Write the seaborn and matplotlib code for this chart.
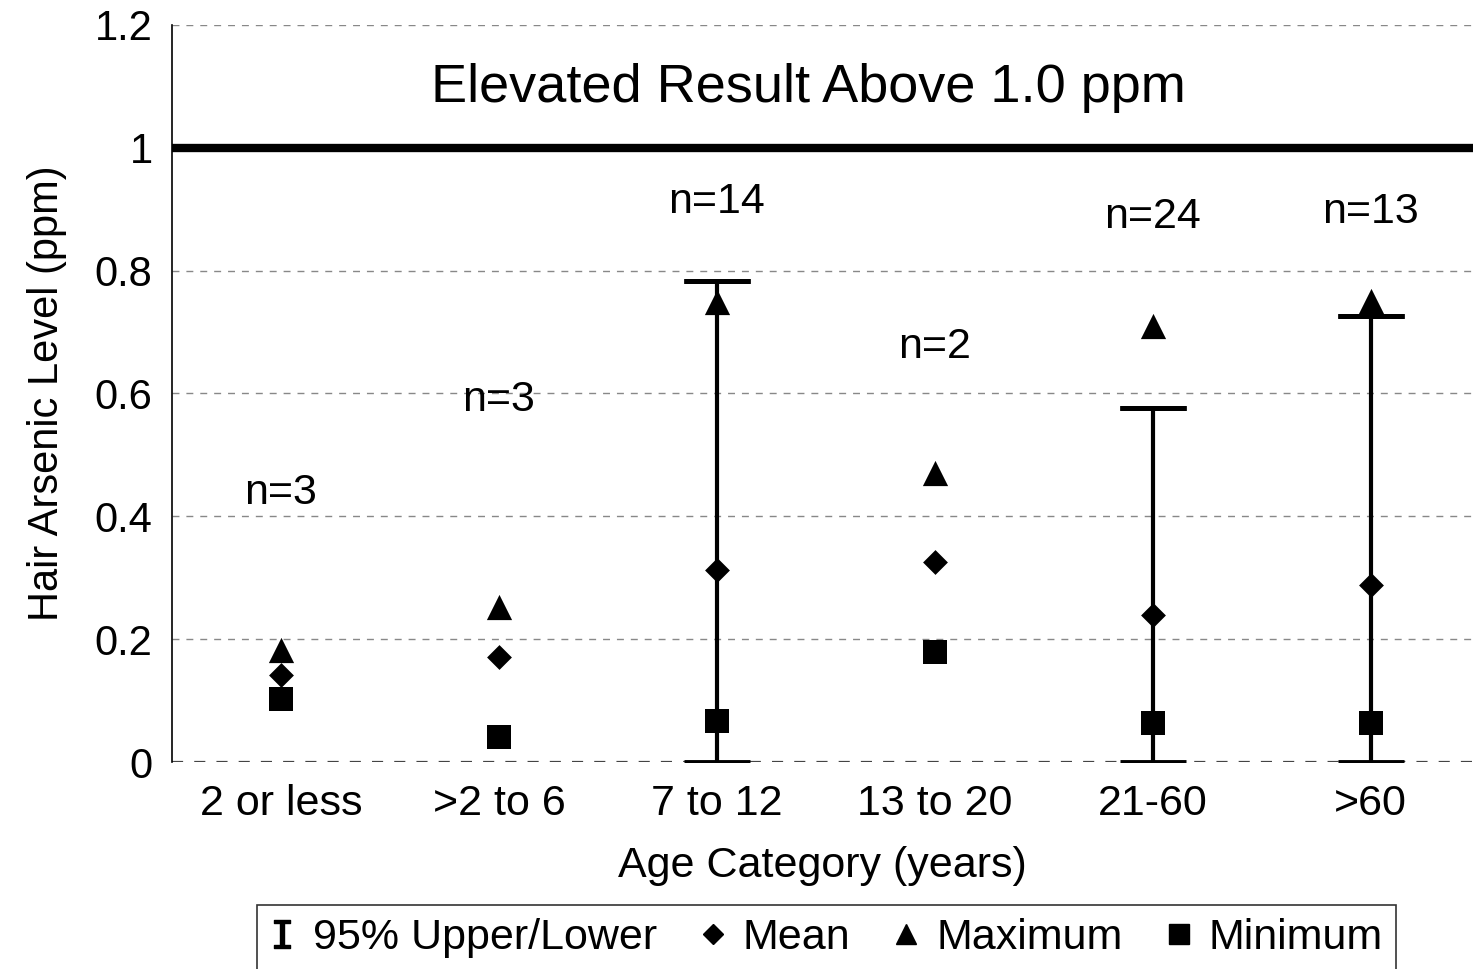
import matplotlib
matplotlib.use("Agg")
import matplotlib.pyplot as plt
from matplotlib.lines import Line2D
import seaborn as sns
import numpy as np
import pandas as pd

categories = ["2 or less", ">2 to 6", "7 to 12", "13 to 20", "21-60", ">60"]
mean_vals = [0.142, 0.171, 0.312, 0.325, 0.239, 0.288]
max_vals = [0.182, 0.252, 0.749, 0.470, 0.710, 0.750]
min_vals = [0.103, 0.041, 0.067, 0.179, 0.063, 0.063]
ci_upper = [np.nan, np.nan, 0.783, np.nan, 0.576, 0.726]
ci_lower = [np.nan, np.nan, 0.0, np.nan, 0.0, 0.0]
n_labels = ["n=3", "n=3", "n=14", "n=2", "n=24", "n=13"]
n_label_y = [0.438, 0.589, 0.912, 0.676, 0.887, 0.895]
ytick_vals = [0, 0.2, 0.4, 0.6, 0.8, 1.0, 1.2]
ytick_labels = ["0", "0.2", "0.4", "0.6", "0.8", "1", "1.2"]
threshold = 1.0

sns.set_theme(style="white")
plt.rcParams["font.family"] = ["Liberation Sans", "DejaVu Sans"]
for k in ["text.color", "axes.labelcolor", "xtick.color", "ytick.color"]:
    plt.rcParams[k] = "black"

fig = plt.figure(figsize=(14.73, 9.69), dpi=100)
ax = fig.add_axes([172 / 1473, 1 - 762 / 969, 1 - 172 / 1473, (762 - 25) / 969])

x = np.arange(len(categories))
df = pd.DataFrame({"x": x, "mean": mean_vals, "max": max_vals, "min": min_vals,
                   "hi": ci_upper, "lo": ci_lower})

# grid lines
for v in ytick_vals:
    if v == threshold:
        continue
    ax.axhline(v, color="#444444" if v == 0 else "#888888",
               lw=1.6 if v == 0 else 1.0, ls=(0, (5, 5)), zorder=0)
ax.axhline(threshold, color="black", lw=6, zorder=1)

# error bars (95% CI)
ci = df.dropna(subset=["hi"])
ax.errorbar(ci["x"], ci["lo"], yerr=[np.zeros(len(ci)), ci["hi"] - ci["lo"]],
            fmt="none", ecolor="black", elinewidth=3, capsize=24, capthick=3.5, zorder=2)
ax.errorbar(ci["x"], ci["hi"], yerr=[np.zeros(len(ci)), np.zeros(len(ci))],
            fmt="none", ecolor="black", elinewidth=3, capsize=24, capthick=3.5, zorder=2)

sns.scatterplot(data=df, x="x", y="max", marker="^", s=330, color="black",
                edgecolor="black", linewidth=0, ax=ax, zorder=3)
sns.scatterplot(data=df, x="x", y="mean", marker="D", s=160, color="black",
                edgecolor="black", linewidth=0, ax=ax, zorder=3)
sns.scatterplot(data=df, x="x", y="min", marker="s", s=320, color="black",
                edgecolor="black", linewidth=0, ax=ax, zorder=3)

for xi, lab, ly in zip(x, n_labels, n_label_y):
    ax.text(xi, ly, lab, ha="center", va="center", fontsize=31)

ax.text(2.42, 1.097, "Elevated Result Above 1.0 ppm", ha="center", va="center", fontsize=39)

ax.set_xlim(-0.5, 5.47)
ax.set_ylim(0, 1.2)
ax.set_yticks(ytick_vals)
ax.set_yticklabels(ytick_labels, fontsize=30)
ax.set_xticks(x)
ax.set_xticklabels(categories, fontsize=31)
ax.tick_params(axis="both", length=0)
ax.tick_params(axis="x", pad=16)
ax.tick_params(axis="y", pad=14)
ax.set_xlabel("Age Category (years)", fontsize=31, labelpad=16)
ax.set_ylabel("Hair Arsenic Level (ppm)", fontsize=30, labelpad=20)

for s in ["top", "right", "bottom"]:
    ax.spines[s].set_visible(False)
ax.spines["left"].set_color("black")
ax.spines["left"].set_linewidth(1.2)

handles = [
    Line2D([], [], marker=r"$\mathtt{I}$", color="black", ls="none", markersize=20),
    Line2D([], [], marker="D", color="black", ls="none", markersize=10),
    Line2D([], [], marker="^", color="black", ls="none", markersize=15),
    Line2D([], [], marker="s", color="black", ls="none", markersize=14),
]
labels = ["95% Upper/Lower", "Mean", "Maximum", "Minimum"]
leg = fig.legend(handles, labels, loc="upper center", bbox_to_anchor=(0.561, 1 - 905 / 969),
                 ncol=4, fontsize=31, frameon=True, fancybox=False, handlelength=0.6,
                 handletextpad=0.4, columnspacing=1.0, borderpad=0.3, borderaxespad=0)
leg.get_frame().set_edgecolor("black")
leg.get_frame().set_linewidth(1.2)

fig.savefig("out.png", dpi=100)
